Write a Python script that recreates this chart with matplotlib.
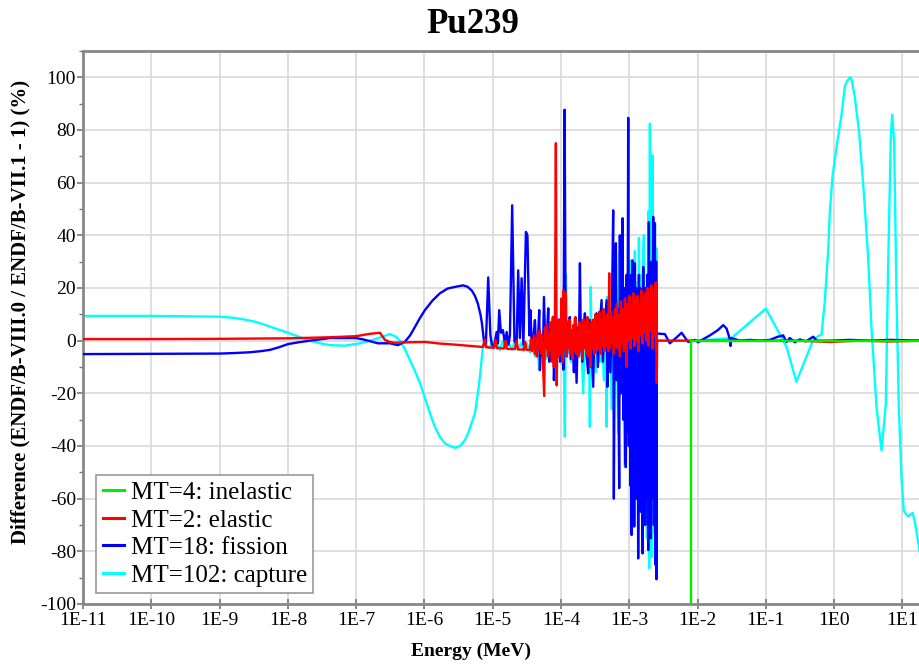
import numpy as np
import matplotlib
matplotlib.use("Agg")
import matplotlib.pyplot as plt
from matplotlib.lines import Line2D

plt.rcParams['font.family'] = ['Liberation Serif', 'DejaVu Serif']
plt.rcParams['axes.unicode_minus'] = False

# --- data: (log10 energy in MeV, difference in %) ---
title = "Pu239"
x_label = "Energy (MeV)"
y_label = "Difference (ENDF/B-VIII.0 / ENDF/B-VII.1 - 1) (%)"
decades = list(range(-11, 2))
tick_labels = ["1E%d" % k for k in decades]
y_ticks = [-100, -80, -60, -40, -20, 0, 20, 40, 60, 80, 100]

series_names = ["MT=4: inelastic", "MT=2: elastic", "MT=18: fission", "MT=102: capture"]
series_colors = ["#00ee00", "#ff0000", "#0000ff", "#00ffff"]

inelastic = [(-2.103, -110.0), (-2.103, 0.0), (1.301, 0.0)]

elastic = [
    (-11.000, 0.6), (-10.019, 0.6), (-8.994, 0.7), (-7.969, 0.9), (-7.383, 1.3), (-7.003, 1.7),
    (-6.798, 2.6), (-6.652, 3.0), (-6.578, 0.3), (-6.505, -0.5), (-6.432, -0.8), (-6.213, -0.6),
    (-5.993, -0.5), (-5.773, -1.1), (-5.554, -1.5), (-5.334, -2.0), (-5.144, -2.4), (-5.114, 0.5),
    (-5.100, -2.5), (-4.982, -2.7), (-4.960, 0.3), (-4.939, -2.8), (-4.836, -3.0), (-4.814, 0.0),
    (-4.792, -3.1), (-4.675, -3.2), (-4.650, 0.0), (-4.631, -3.3), (-4.543, -3.4), (-4.524, -0.5),
    (-4.507, -3.5), (-4.455, -3.5), (-4.441, 0.5), (-4.426, -4.0), (-4.397, 2.0), (-4.382, -5.0),
    (-4.367, 1.0), (-4.353, -6.0), (-4.338, 3.0), (-4.324, -3.0), (-4.309, 4.0), (-4.294, -5.0),
    (-4.280, 2.0), (-4.265, -8.0), (-4.246, -21.0), (-4.236, 5.0), (-4.221, -3.0), (-4.206, 6.0),
    (-4.192, -6.0), (-4.177, 3.0), (-4.163, -4.0), (-4.148, 7.0), (-4.133, -8.0), (-4.119, 9.0),
    (-4.104, -10.0), (-4.089, 6.0), (-4.075, 75.0), (-4.063, -17.0), (-4.053, 4.0), (-4.038, -6.0),
    (-4.023, 8.0), (-4.009, -5.0), (-3.994, 16.0), (-3.980, -8.0), (-3.965, 19.0), (-3.950, -4.0),
    (-3.935, 18.0), (-3.921, -6.0), (-3.906, 5.0), (-3.891, -3.0), (-3.877, 8.0), (-3.862, -5.0),
    (-3.848, 4.0), (-3.833, -7.0), (-3.818, 6.0), (-3.804, -4.0), (-3.789, 9.0), (-3.775, -5.0),
    (-3.760, 3.0), (-3.745, -6.0), (-3.731, 7.0), (-3.716, -4.0), (-3.701, 5.0), (-3.687, -7.0),
    (-3.672, 8.0), (-3.657, -3.0), (-3.643, 6.0), (-3.628, -5.0), (-3.613, 9.0), (-3.599, -6.0),
    (-3.584, 4.0), (-3.570, -10.0), (-3.555, 7.0), (-3.540, -3.0), (-3.526, 8.0), (-3.511, -5.0),
    (-3.496, 10.0), (-3.482, -4.0), (-3.467, 6.0), (-3.452, -3.0), (-3.438, 11.0), (-3.423, -5.0),
    (-3.409, 8.0), (-3.394, -2.0), (-3.379, 12.0), (-3.365, -4.0), (-3.350, 9.0), (-3.335, -2.0),
    (-3.321, 10.0), (-3.306, -4.0), (-3.294, 25.6), (-3.284, -3.0), (-3.269, 11.0), (-3.255, -1.0),
    (-3.240, 9.0), (-3.226, -5.0), (-3.211, 12.0), (-3.196, -2.0), (-3.182, 14.0), (-3.167, -3.0),
    (-3.152, 10.0), (-3.138, -6.0), (-3.123, 15.0), (-3.108, -1.0), (-3.094, 12.0), (-3.079, -4.0),
    (-3.064, 16.0), (-3.050, -2.0), (-3.039, -10.0), (-3.028, 14.0), (-3.013, 0.0), (-2.999, 17.0),
    (-2.984, -3.0), (-2.969, 13.0), (-2.955, 1.0), (-2.940, 18.0), (-2.925, -2.0), (-2.911, 15.0),
    (-2.896, 0.0), (-2.881, 17.0), (-2.867, -4.0), (-2.852, 14.0), (-2.837, 2.0), (-2.823, 19.0),
    (-2.808, -1.0), (-2.793, 16.0), (-2.779, 3.0), (-2.764, 18.0), (-2.750, 0.0), (-2.735, 20.0),
    (-2.720, -2.0), (-2.706, 17.0), (-2.691, 4.0), (-2.676, 21.0), (-2.662, -3.0), (-2.647, 18.0),
    (-2.633, 2.0), (-2.618, 22.0), (-2.608, -4.0), (-2.602, 22.0), (-2.598, -16.0), (-2.592, 0.0),
    (-1.966, 0.0), (-1.234, 0.0), (-0.502, 0.0), (-0.063, -0.5), (0.083, -0.3), (0.376, 0.0),
    (0.816, -0.3), (1.301, 0.0),
]

fission = [
    (-11.000, -5.1), (-8.994, -4.9), (-8.780, -4.7), (-8.555, -4.4), (-8.400, -4.0), (-8.262, -3.5),
    (-8.130, -2.5), (-7.998, -1.3), (-7.840, -0.6), (-7.676, 0.0), (-7.383, 1.0), (-7.003, 1.0),
    (-6.900, 0.5), (-6.681, -1.0), (-6.505, -1.0), (-6.388, -1.7), (-6.286, -0.4), (-6.210, 2.0),
    (-6.139, 5.2), (-6.070, 8.4), (-5.993, 11.6), (-5.880, 15.3), (-5.773, 18.0), (-5.660, 19.8),
    (-5.554, 20.4), (-5.437, 21.0), (-5.370, 20.5), (-5.305, 19.0), (-5.260, 17.0), (-5.217, 14.0),
    (-5.180, 10.0), (-5.158, 6.6), (-5.129, 0.0), (-5.100, -1.1),
    (-5.066, 24.0), (-5.034, 2.0), (-5.012, -1.5), (-4.982, -2.3), (-4.943, 3.3), (-4.924, -1.0),
    (-4.905, 11.6), (-4.880, 3.0), (-4.851, 4.0), (-4.821, -1.0), (-4.796, 3.3), (-4.770, -1.5),
    (-4.748, 2.0), (-4.715, 51.4), (-4.682, 0.0), (-4.650, -1.5), (-4.627, 26.7), (-4.602, 1.0),
    (-4.577, 23.7), (-4.551, -1.5), (-4.514, 41.3), (-4.492, 40.0), (-4.463, 2.0), (-4.448, 11.6),
    (-4.426, -3.0), (-4.404, 1.0), (-4.382, 7.8), (-4.360, -5.0), (-4.338, 0.0), (-4.319, 11.6),
    (-4.309, -11.2), (-4.287, 2.0), (-4.265, -6.0), (-4.250, 16.6), (-4.228, -3.0), (-4.206, 2.0),
    (-4.187, 12.3), (-4.170, -8.0), (-4.148, 3.0), (-4.114, 9.0), (-4.104, -15.0), (-4.082, 1.0),
    (-4.060, -5.0), (-4.038, 8.0), (-4.016, -8.0), (-3.987, 4.0), (-3.965, -11.0), (-3.947, 87.7),
    (-3.932, 3.0), (-3.914, -6.0), (-3.891, 7.0), (-3.870, 9.0), (-3.855, -7.0), (-3.833, 4.0),
    (-3.811, -12.0), (-3.797, 8.5), (-3.772, -16.0), (-3.753, 5.0), (-3.738, -3.0), (-3.723, 29.4),
    (-3.709, 0.0), (-3.687, -8.0), (-3.665, 6.0), (-3.650, 10.4), (-3.628, -5.0), (-3.602, -12.4),
    (-3.584, 5.0), (-3.577, 7.8), (-3.555, -3.0), (-3.529, -17.5), (-3.511, 6.0), (-3.479, 10.4),
    (-3.460, -10.0), (-3.438, 4.0), (-3.406, 15.4), (-3.387, -8.0), (-3.365, 5.0), (-3.332, 15.4),
    (-3.321, -17.5), (-3.299, 8.0), (-3.277, -12.0), (-3.255, 10.0), (-3.236, 49.5), (-3.226, -60.0),
    (-3.211, 18.0), (-3.196, 37.0), (-3.182, -15.0), (-3.167, 12.0), (-3.148, -56.0), (-3.138, 40.0),
    (-3.123, -20.0), (-3.108, 10.0), (-3.098, 46.5), (-3.086, -30.0), (-3.072, 20.0), (-3.060, -45.0),
    (-3.050, -48.0), (-3.038, 25.0), (-3.028, -35.0), (-3.016, 84.6), (-3.006, -40.0), (-2.994, 20.0),
    (-2.984, -55.0), (-2.974, 25.0), (-2.966, -73.8), (-2.956, 30.5), (-2.947, -50.0), (-2.937, 15.0),
    (-2.928, -70.6), (-2.918, 29.4), (-2.908, -45.0), (-2.897, 20.0), (-2.889, -60.0), (-2.878, 15.0),
    (-2.870, -82.7), (-2.859, 25.0), (-2.849, -55.0), (-2.839, 20.0), (-2.830, -65.0), (-2.820, 10.0),
    (-2.805, -80.8), (-2.796, 28.0), (-2.786, -50.0), (-2.776, 15.0), (-2.767, -70.0), (-2.757, 20.0),
    (-2.747, -60.0), (-2.738, 25.0), (-2.723, -79.5), (-2.713, 45.0), (-2.703, -65.0), (-2.693, 20.0),
    (-2.684, -75.0), (-2.674, 30.0), (-2.665, -60.0), (-2.650, 47.0), (-2.640, -70.0), (-2.631, 25.0),
    (-2.625, 44.6), (-2.617, -85.0), (-2.607, 30.0), (-2.602, -90.6), (-2.596, 2.7),
    (-2.479, 2.5), (-2.406, -1.0), (-2.318, 1.0), (-2.234, 3.0), (-2.138, -0.5), (-2.040, 0.3),
    (-1.991, -0.6), (-1.922, 0.5), (-1.820, 2.0), (-1.703, 4.0), (-1.625, 5.9), (-1.575, 4.6),
    (-1.527, 0.5), (-1.517, -2.0), (-1.505, 1.0), (-1.381, 0.0), (-1.234, 0.3), (-1.088, 0.0),
    (-0.941, 0.3), (-0.824, 1.5), (-0.747, 2.0), (-0.697, -0.5), (-0.649, 1.0), (-0.575, -0.6),
    (-0.502, 0.5), (-0.414, -0.3), (-0.307, 1.5), (-0.253, 0.0), (-0.063, 0.0), (0.230, 0.3),
    (0.523, 0.0), (0.816, 0.3), (1.301, 0.0),
]

capture = [
    (-11.000, 9.4), (-10.019, 9.4), (-8.994, 9.1), (-8.800, 8.7), (-8.628, 8.0), (-8.480, 7.2),
    (-8.335, 6.0), (-8.170, 4.5), (-7.998, 3.0), (-7.840, 1.5), (-7.676, 0.0), (-7.530, -1.0),
    (-7.383, -1.7), (-7.164, -1.9), (-6.944, -1.0), (-6.725, 0.5), (-6.505, 2.5), (-6.417, 1.5),
    (-6.359, 0.0), (-6.290, -3.0), (-6.213, -7.4), (-6.140, -11.5), (-6.066, -16.0), (-5.990, -22.0),
    (-5.920, -27.5), (-5.850, -32.5), (-5.773, -36.6), (-5.700, -39.0), (-5.627, -40.0), (-5.554, -40.7),
    (-5.480, -40.0), (-5.407, -37.8), (-5.350, -34.5), (-5.305, -31.0), (-5.260, -27.5), (-5.232, -22.6),
    (-5.200, -16.5), (-5.173, -10.0), (-5.144, -2.4), (-5.114, 1.0), (-5.085, -2.0), (-5.041, -3.0),
    (-5.012, 0.0), (-4.982, -3.0),
    (-4.939, -1.0), (-4.895, -3.5), (-4.851, 0.0), (-4.807, -3.0), (-4.763, -1.0), (-4.719, -3.5),
    (-4.675, 0.0), (-4.631, -3.5), (-4.587, -1.0), (-4.543, -4.0), (-4.499, -1.0), (-4.455, -4.5),
    (-4.411, -2.0), (-4.382, -6.0), (-4.353, -1.0), (-4.319, -11.0), (-4.302, 1.0), (-4.280, -5.0),
    (-4.250, 2.0), (-4.221, -7.0), (-4.192, 1.0), (-4.163, -5.0), (-4.133, 3.0), (-4.104, -8.0),
    (-4.075, 2.0), (-4.045, -6.0), (-4.016, 4.0), (-3.987, -9.0), (-3.965, 3.0), (-3.943, -36.5),
    (-3.928, 25.0), (-3.906, -5.0), (-3.884, 5.0), (-3.855, -8.0), (-3.826, 3.0), (-3.797, -10.0),
    (-3.767, 6.0), (-3.738, -6.0), (-3.709, 4.0), (-3.675, -20.0), (-3.650, 5.0), (-3.621, -8.0),
    (-3.592, 8.0), (-3.577, -32.7), (-3.565, 20.4), (-3.548, -5.0), (-3.518, 7.0), (-3.489, -12.0),
    (-3.460, 9.0), (-3.430, -8.0), (-3.401, 6.0), (-3.372, -15.0), (-3.350, 10.0), (-3.332, -32.7),
    (-3.325, 16.6), (-3.299, -6.0), (-3.277, 12.0), (-3.259, -26.0), (-3.240, 8.0), (-3.211, -12.0),
    (-3.189, 15.0), (-3.163, -35.0), (-3.149, 20.0), (-3.138, 33.0), (-3.123, -20.0), (-3.101, 22.0),
    (-3.079, -30.0), (-3.064, -48.0), (-3.042, 25.0), (-3.020, -40.0), (-3.006, 18.0), (-2.991, 30.5),
    (-2.977, -50.0), (-2.966, -70.7), (-2.952, 20.0), (-2.933, -45.0), (-2.918, 34.0), (-2.903, -55.0),
    (-2.889, 22.0), (-2.870, -72.0), (-2.859, 39.0), (-2.845, -40.0), (-2.830, 25.0), (-2.815, -60.0),
    (-2.801, 30.0), (-2.786, 40.0), (-2.771, -65.0), (-2.757, 20.0), (-2.742, -75.0), (-2.723, 49.0),
    (-2.709, -86.4), (-2.698, 82.4), (-2.687, -40.0), (-2.674, -82.0), (-2.659, 70.4), (-2.650, -30.0),
    (-2.640, -73.0), (-2.625, 44.6), (-2.614, -40.0), (-2.602, 35.0), (-2.596, 0.0), (-1.966, 0.0),
    (-1.502, 1.0), (-1.000, 12.2), (-0.697, -2.4), (-0.553, -15.6), (-0.307, 0.3), (-0.234, 1.7),
    (-0.184, 2.4), (-0.136, 15.3), (-0.088, 34.0), (-0.063, 49.0), (-0.023, 62.7), (0.035, 73.6),
    (0.108, 85.8), (0.157, 96.6), (0.182, 98.2), (0.230, 100.0), (0.255, 99.3), (0.303, 92.5),
    (0.366, 79.0), (0.435, 56.0), (0.498, 31.5), (0.548, 4.4), (0.621, -25.4), (0.694, -41.7),
    (0.757, -24.0), (0.791, 28.8), (0.830, 77.6), (0.849, 85.8), (0.878, 76.0), (0.914, 15.3),
    (0.947, -25.4), (0.987, -52.5), (1.020, -64.7), (1.083, -66.8), (1.148, -65.4), (1.182, -68.8),
    (1.255, -80.3), (1.301, -86.0),
]

series = [inelastic, elastic, fission, capture]
z_orders = [5, 4, 3, 2]

fig = plt.figure(figsize=(9.2, 6.66), dpi=100)
ax = fig.add_axes([83 / 920, 1 - 604 / 666, 840 / 920, 553 / 666])

handles = []
for pts, name, col, z in zip(series, series_names, series_colors, z_orders):
    arr = np.array(pts)
    ax.plot(10.0 ** arr[:, 0], arr[:, 1], color=col, lw=1.7, zorder=z)
    handles.append(Line2D([], [], color=col, lw=2.2))

ax.set_xscale('log')
ax.set_xlim(1e-11, 20)
ax.set_ylim(-100, 110)
ax.set_xticks([10.0 ** k for k in decades])
ax.set_xticklabels(tick_labels)
ax.xaxis.set_minor_locator(matplotlib.ticker.NullLocator())
ax.set_yticks(y_ticks)
ax.yaxis.set_minor_locator(matplotlib.ticker.MultipleLocator(10))

ax.grid(True, which='major', color='#dcdcdc', lw=1.3)
ax.set_axisbelow(True)
for side in ['top', 'left', 'bottom']:
    ax.spines[side].set_color('#888888')
    ax.spines[side].set_linewidth(2)
ax.spines['right'].set_visible(False)

ax.tick_params(axis='x', which='major', direction='inout', length=7, width=1.2,
               color='#777777', labelsize=14, pad=2)
ax.tick_params(axis='y', which='major', direction='out', length=4, width=1.2,
               color='#777777', labelsize=14, pad=1)
ax.tick_params(axis='y', which='minor', direction='out', length=3, width=1.0, color='#777777')

ax.set_xlabel(x_label, fontsize=14, fontweight='bold')
ax.xaxis.set_label_coords(0.462, -0.07)
ax.set_ylabel(y_label, fontsize=15, fontweight='bold')
ax.yaxis.set_label_coords(-0.062, 0.528)

fig.text(473 / 920, 1 - 33 / 666, title, ha='center', va='baseline',
         fontsize=25, fontweight='bold')

leg = ax.legend(handles, series_names, loc='lower left', bbox_to_anchor=(0.016, 0.02),
                fontsize=18, frameon=True, fancybox=False, edgecolor='#999999',
                framealpha=1, handlelength=0.85, handletextpad=0.28, labelspacing=0.2,
                borderpad=0.25, borderaxespad=0)
leg.get_frame().set_linewidth(1.2)

fig.savefig("out.png", dpi=100)
